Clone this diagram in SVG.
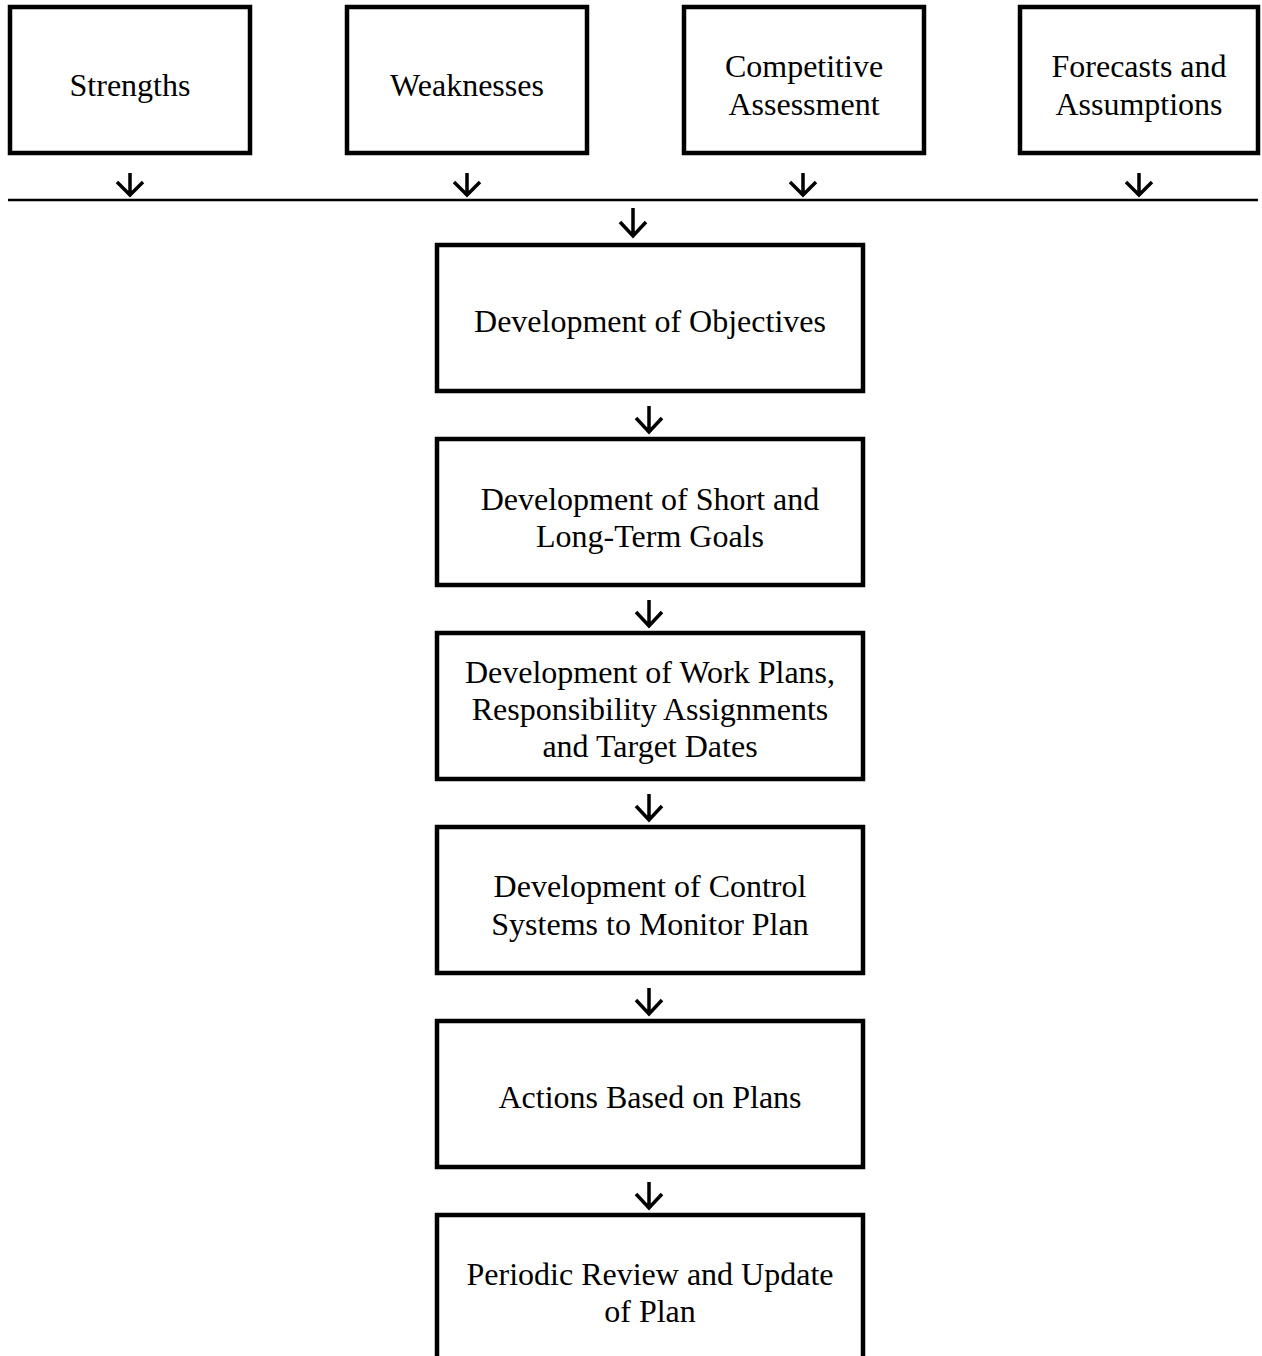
<svg xmlns="http://www.w3.org/2000/svg" width="1262" height="1356" viewBox="0 0 1262 1356">
<style>
.box{fill:#fff;stroke:#000;stroke-width:4.5}
.t{font-family:"Liberation Serif","Times New Roman",serif;font-size:32px;fill:#000;text-anchor:middle}
.arr{fill:none;stroke:#000;stroke-width:3.5;stroke-linecap:butt;stroke-linejoin:miter}
.bus{stroke:#000;stroke-width:2.5}
</style>
<rect width="1262" height="1356" fill="#fff"/>
<g id="strengths"><rect class="box" x="10" y="7" width="240" height="146"/><text class="t" x="130" y="96">Strengths</text></g>
<g id="weaknesses"><rect class="box" x="347" y="7" width="240" height="146"/><text class="t" x="467" y="96">Weaknesses</text></g>
<g id="competitive"><rect class="box" x="684" y="7" width="240" height="146"/><text class="t" x="804" y="77">Competitive</text><text class="t" x="804" y="115">Assessment</text></g>
<g id="forecasts"><rect class="box" x="1020" y="7" width="238" height="146"/><text class="t" x="1139" y="77">Forecasts and</text><text class="t" x="1139" y="115">Assumptions</text></g>
<g id="objectives"><rect class="box" x="437" y="245" width="426" height="146"/><text class="t" x="650" y="332">Development of Objectives</text></g>
<g id="goals"><rect class="box" x="437" y="439" width="426" height="146"/><text class="t" x="650" y="510">Development of Short and</text><text class="t" x="650" y="547">Long-Term Goals</text></g>
<g id="workplans"><rect class="box" x="437" y="633" width="426" height="146"/><text class="t" x="650" y="683">Development of Work Plans,</text><text class="t" x="650" y="720">Responsibility Assignments</text><text class="t" x="650" y="757">and Target Dates</text></g>
<g id="control"><rect class="box" x="437" y="827" width="426" height="146"/><text class="t" x="650" y="897">Development of Control</text><text class="t" x="650" y="935">Systems to Monitor Plan</text></g>
<g id="actions"><rect class="box" x="437" y="1021" width="426" height="146"/><text class="t" x="650" y="1108">Actions Based on Plans</text></g>
<g id="review"><rect class="box" x="437" y="1215" width="426" height="200"/><text class="t" x="650" y="1285">Periodic Review and Update</text><text class="t" x="650" y="1322">of Plan</text></g>
<g id="connectors">
<line class="bus" x1="8" y1="200" x2="1258" y2="200"/>
<path class="arr" d="M130 173V195M117 182L130 195L143 182"/>
<path class="arr" d="M467 173V195M454 182L467 195L480 182"/>
<path class="arr" d="M803 173V195M790 182L803 195L816 182"/>
<path class="arr" d="M1139 173V195M1126 182L1139 195L1152 182"/>
<path class="arr" d="M633 208V236M620 222L633 236L646 222"/>
<path class="arr" d="M649 406V432M636 418L649 432L662 418"/>
<path class="arr" d="M649 600V626M636 612L649 626L662 612"/>
<path class="arr" d="M649 794V820M636 806L649 820L662 806"/>
<path class="arr" d="M649 988V1014M636 1000L649 1014L662 1000"/>
<path class="arr" d="M649 1182V1208M636 1194L649 1208L662 1194"/>
</g>
</svg>
